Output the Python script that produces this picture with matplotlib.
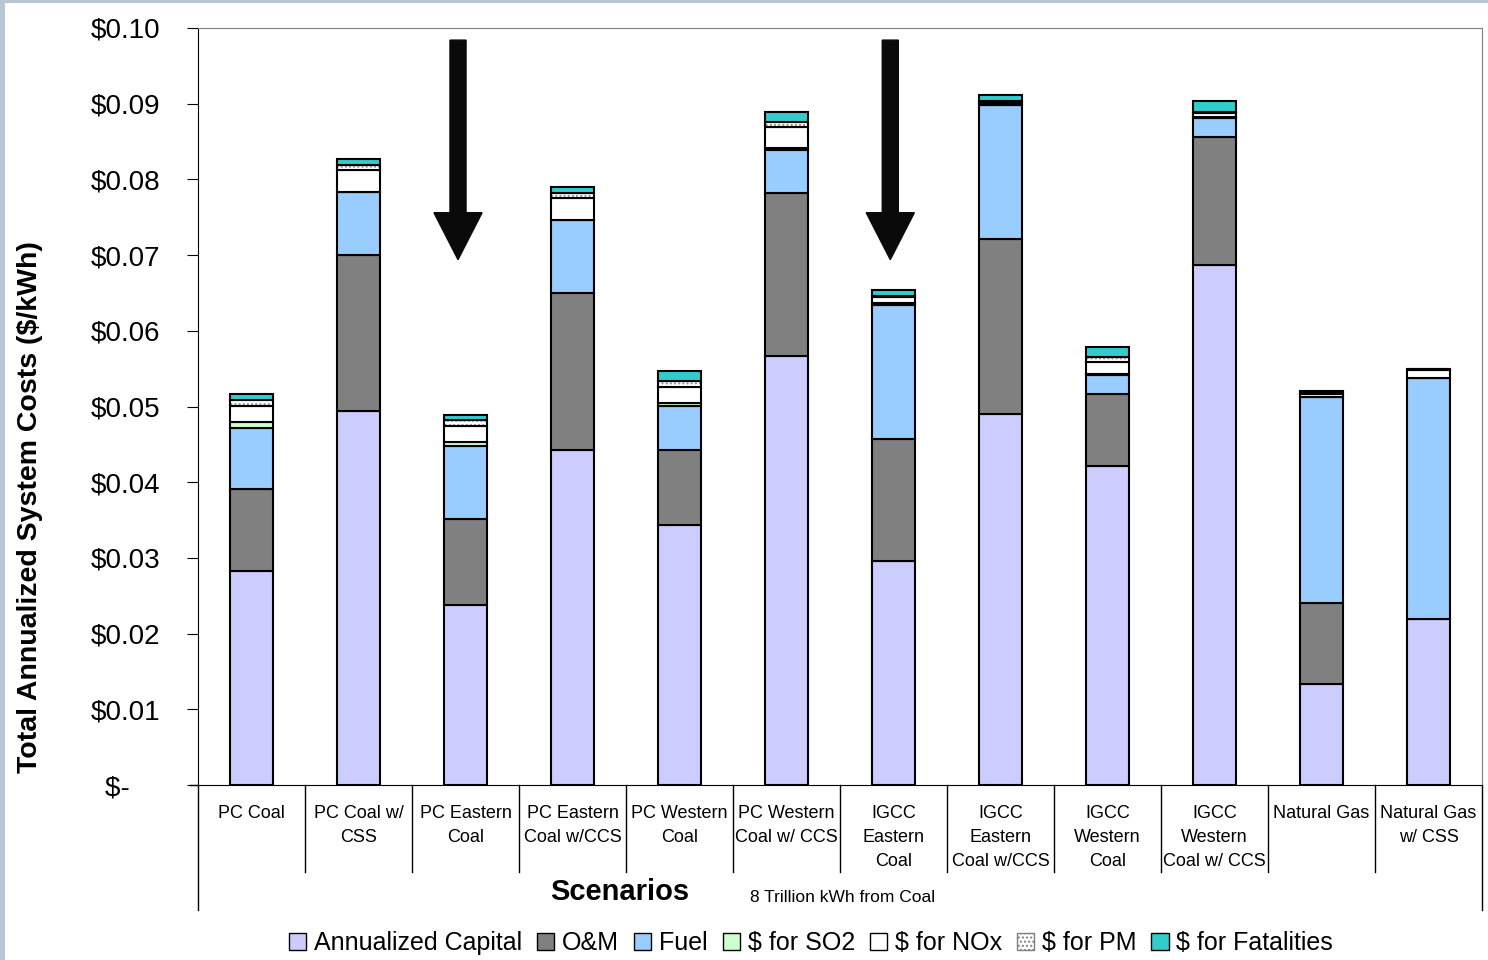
import numpy as np
import matplotlib
matplotlib.use("Agg")
from matplotlib import pyplot as plt
from matplotlib.patches import Patch, Rectangle

plt.rcParams['font.family'] = ['Liberation Sans', 'DejaVu Sans']

# Scenario names and cost components ($/kWh)
scenarios = ["PC Coal", "PC Coal w/\nCSS", "PC Eastern\nCoal", "PC Eastern\nCoal w/CCS",
             "PC Western\nCoal", "PC Western\nCoal w/ CCS", "IGCC\nEastern\nCoal",
             "IGCC\nEastern\nCoal w/CCS", "IGCC\nWestern\nCoal", "IGCC\nWestern\nCoal w/ CCS",
             "Natural Gas", "Natural Gas\nw/ CSS"]
capital = [0.0283, 0.0494, 0.0238, 0.0443, 0.0344, 0.0567, 0.0296, 0.0490, 0.0421, 0.0687, 0.0133, 0.0219]
om = [0.0108, 0.0206, 0.0114, 0.0207, 0.0099, 0.0215, 0.0161, 0.0231, 0.0095, 0.0169, 0.0108, 0.0]
fuel = [0.0081, 0.0083, 0.0096, 0.0097, 0.0058, 0.0057, 0.0177, 0.0177, 0.0025, 0.0025, 0.0272, 0.0318]
so2 = [0.0008, 0.0, 0.0005, 0.0, 0.0003, 0.0003, 0.0003, 0.0, 0.0002, 0.0002, 0.0, 0.0]
nox = [0.0021, 0.0029, 0.0021, 0.0029, 0.0022, 0.0027, 0.0008, 0.0003, 0.0016, 0.0005, 0.0004, 0.0011]
pm = [0.0008, 0.0007, 0.0008, 0.0006, 0.0008, 0.0007, 0.0001, 0.0002, 0.0007, 0.0001, 0.0002, 0.0002]
fatalities = [0.0008, 0.0008, 0.0007, 0.0008, 0.0013, 0.0013, 0.0008, 0.0009, 0.0013, 0.0014, 0.0002, 0.0]

series_names = ["Annualized Capital", "O&M", "Fuel", "$ for SO2", "$ for NOx", "$ for PM", "$ for Fatalities"]
series_colors = ["#ccccff", "#808080", "#99ccff", "#ccffcc", "#ffffff", "#ffffff", "#33cccc"]

# arrows marking the two eastern coal cases
arrow_x = [1.93, 5.97]

fig = plt.figure(figsize=(14.88, 9.6), dpi=100)
fig.patch.set_facecolor("#b7c6d5")
fig.patches.append(Rectangle((5 / 1488, 0), 1, 1 - 3 / 960, transform=fig.transFigure,
                             facecolor="white", edgecolor="none", zorder=-10))
ax = fig.add_axes([198 / 1488, 1 - 785 / 960, (1482 - 198) / 1488, (785 - 28) / 960])

x = np.arange(len(scenarios))
width = 0.41
bottom = np.zeros(len(scenarios))
for name, vals, col in zip(series_names, [capital, om, fuel, so2, nox, pm, fatalities], series_colors):
    vals = np.array(vals)
    if name == "$ for PM":
        ax.bar(x, vals, width, bottom=bottom, color="white", edgecolor="#909090",
               hatch="....", linewidth=0)
        ax.bar(x, vals, width, bottom=bottom, fill=False, edgecolor="black", linewidth=1.5)
    else:
        ax.bar(x, vals, width, bottom=bottom, color=col, edgecolor="black", linewidth=1.5)
    bottom += vals

for ax_x in arrow_x:
    ax.arrow(ax_x, 0.0984, 0, 0.0694 - 0.0984, width=0.15, head_width=0.45,
             head_length=0.0062, length_includes_head=True, color="#0a0a0a", zorder=5)

ax.set_xlim(-0.5, 11.5)
ax.set_ylim(0, 0.1)
yt = np.arange(0, 0.1001, 0.01)
ax.set_yticks(yt)
ax.set_yticklabels(["$-    "] + [f"${v:.2f}" for v in yt[1:]], fontsize=20)
ax.tick_params(axis="y", length=8, pad=19, direction="out")
ax.set_xticks([])
ax.spines["top"].set_color("#808080")
ax.spines["right"].set_color("#808080")
ax.set_ylabel("Total Annualized System Costs ($/kWh)", fontsize=20.5, fontweight="bold")
ax.yaxis.set_label_coords(-0.121, 0.367)

# category box under the axis
tr = ax.get_xaxis_transform()
for i, lab in enumerate(scenarios):
    ax.text(i, -0.026, lab, transform=tr, ha="center", va="top", fontsize=13, linespacing=1.55)
for b in np.arange(0.5, 11, 1):
    ax.plot([b, b], [0, -0.115], transform=tr, color="black", lw=1, clip_on=False)
for b in [-0.5, 11.5]:
    ax.plot([b, b], [0, -0.165], transform=tr, color="black", lw=1, clip_on=False)
ax.plot([-0.575, -0.5], [0, 0], transform=tr, color="black", lw=1, clip_on=False)

ax.text(3.44, -0.142, "Scenarios", transform=tr, ha="center", va="center", fontsize=21, fontweight="bold")
ax.text(4.66, -0.149, "8 Trillion kWh from Coal", transform=tr, ha="left", va="center", fontsize=12.5)

handles = []
for name, col in zip(series_names, series_colors):
    if name == "$ for PM":
        handles.append(Patch(facecolor="white", edgecolor="#808080", hatch="....", linewidth=1))
    else:
        handles.append(Patch(facecolor=col, edgecolor="black", linewidth=1))
fig.legend(handles, series_names, loc="center", bbox_to_anchor=(0.545, 0.0177), ncol=7,
           frameon=False, fontsize=18, handlelength=0.7, handleheight=0.7,
           handletextpad=0.3, columnspacing=0.6, borderpad=0)

fig.savefig("out.png", dpi=100, facecolor=fig.get_facecolor())
